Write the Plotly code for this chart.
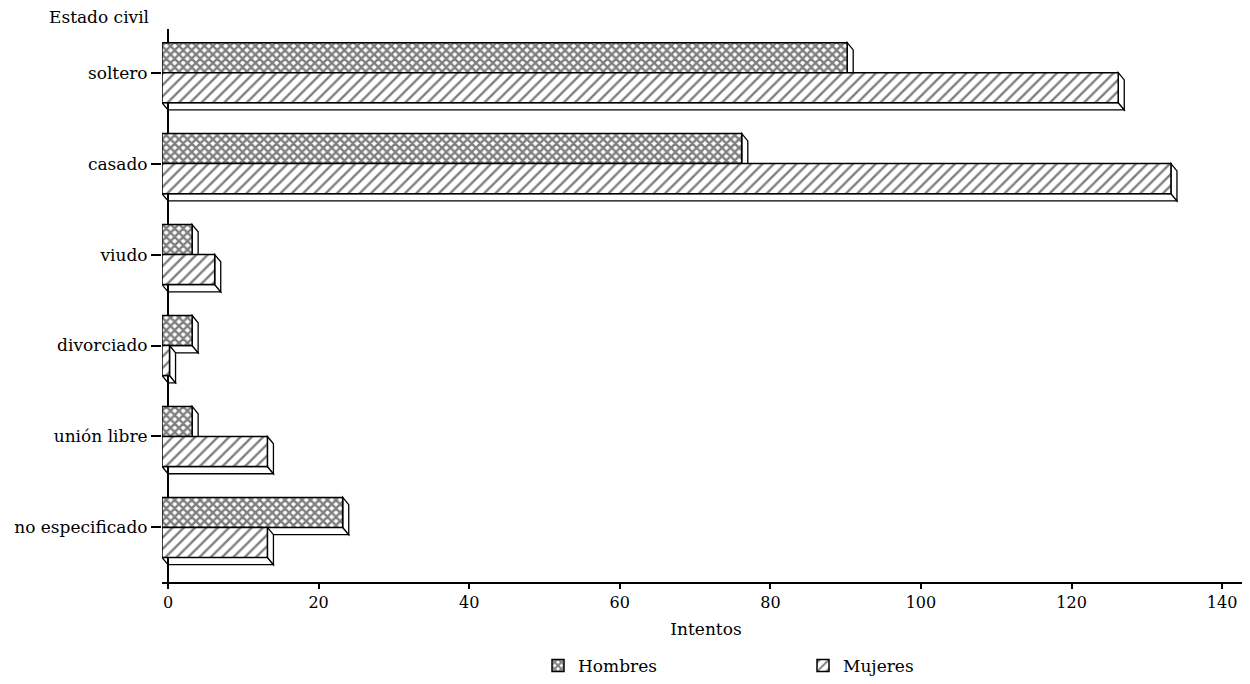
import plotly.graph_objects as go

categories = ["soltero", "casado", "viudo", "divorciado", "unión libre", "no especificado"]
hombres = [91, 77, 4, 4, 4, 24]
mujeres = [127, 134, 7, 1, 14, 14]
x_ticks = [0, 20, 40, 60, 80, 100, 120, 140]

FONT = "DejaVu Serif"
BAR_W = 0.33
DX, DY = 0.8, 0.08   # 3-D depth: front face shifted left/up

ypos = list(range(len(categories)))[::-1]

fig = go.Figure()
fig.add_trace(go.Bar(
    name="Hombres", y=ypos, x=hombres, base=-DX, orientation="h",
    width=BAR_W, offset=0,
    marker=dict(color="white", line=dict(color="black", width=1.5),
                pattern=dict(shape="x", fgcolor="black", bgcolor="white", size=6, solidity=0.65)),
))
fig.add_trace(go.Bar(
    name="Mujeres", y=ypos, x=mujeres, base=-DX, orientation="h",
    width=BAR_W, offset=-BAR_W,
    marker=dict(color="white", line=dict(color="black", width=1.5),
                pattern=dict(shape="/", fgcolor="black", bgcolor="white", size=8, solidity=0.3)),
))

shapes = []
for vals, off in ((hombres, 0.0), (mujeres, -BAR_W)):
    for y, v in zip(ypos, vals):
        y0 = y + off
        y1 = y0 + BAR_W
        fx = v - DX
        right = f"M {fx},{y1} L {v},{y1-DY} L {v},{y0-DY} L {fx},{y0} Z"
        bottom = f"M {-DX},{y0} L 0,{y0-DY} L {v},{y0-DY} L {fx},{y0} Z"
        for p in (bottom, right):
            shapes.append(dict(type="path", path=p, xref="x", yref="y", layer="below",
                               fillcolor="white", line=dict(color="black", width=1.3)))

fig.update_layout(
    width=1242, height=676,
    margin=dict(l=154, r=0, t=21, b=92),
    paper_bgcolor="white", plot_bgcolor="white",
    barmode="overlay",
    font=dict(family=FONT, size=17, color="black"),
    shapes=shapes,
    showlegend=True,
    legend=dict(orientation="h", x=0.3456, xanchor="left", y=-0.152, yanchor="middle",
                entrywidth=220, font=dict(size=17, family=FONT)),
    xaxis=dict(range=[-DX, 143.7], tickvals=x_ticks, showline=True, linecolor="black", linewidth=2,
               ticks="outside", ticklen=5, tickcolor="black", tickwidth=1.5, showgrid=False,
               zeroline=True, zerolinecolor="black", zerolinewidth=2, automargin=False,
               tickfont=dict(size=16),
               title=dict(text="Intentos", standoff=12, font=dict(size=17, family=FONT))),
    yaxis=dict(range=[-0.6, 5.48], tickvals=ypos, ticktext=categories, showline=False,
               ticks="outside", ticklen=10, tickcolor="black",
               tickwidth=1.5, showgrid=False, zeroline=False, automargin=False),
    annotations=[dict(text="Estado civil", xref="paper", yref="paper", x=-0.01, y=1.0215,
                      xanchor="right", yanchor="middle", showarrow=False,
                      font=dict(size=17, family=FONT))],
)

fig.write_html("out.html")
